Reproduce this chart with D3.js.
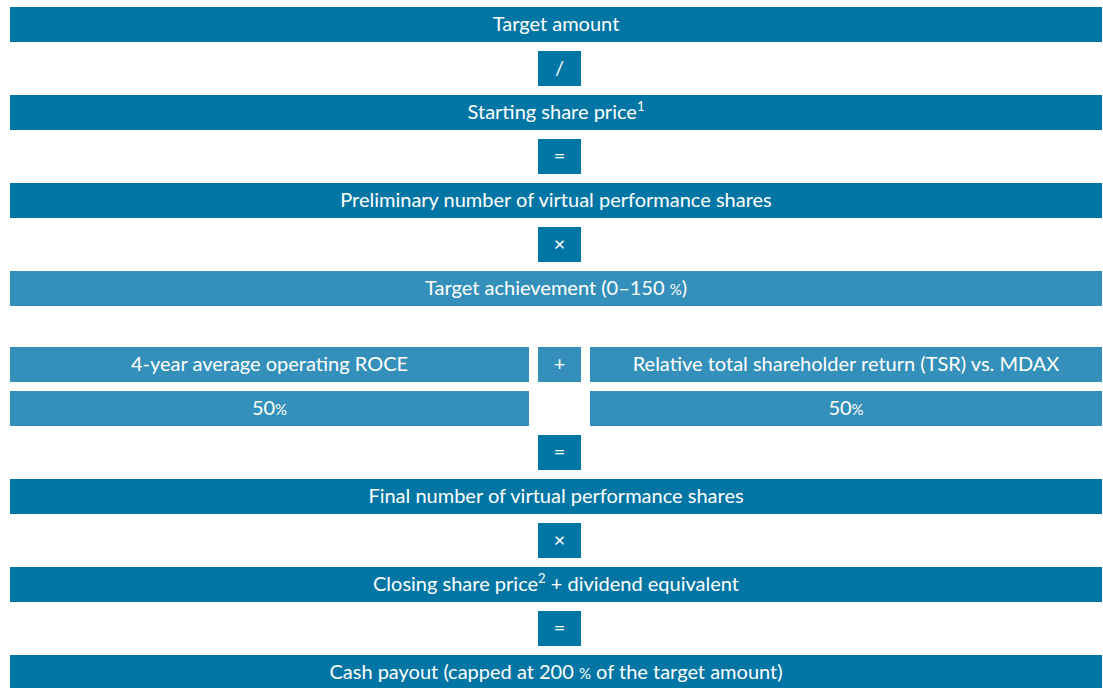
<!DOCTYPE html>
<html>
<head>
<meta charset="utf-8">
<script src="https://cdn.jsdelivr.net/npm/d3@7"></script>
<style>
	body { margin: 0; background: #fff; }
	svg text { font-family: Lato, "Open Sans", sans-serif; fill: #fff; }
</style>
</head>
<body>
<div id="chart-area"></div>
<script>
// Data: the flow of the performance share plan
const barLabels = [
	"Target amount",
	"Starting share price^1",
	"Preliminary number of virtual performance shares",
	"Target achievement (0–150 %)",
	"Final number of virtual performance shares",
	"Closing share price^2 + dividend equivalent",
	"Cash payout (capped at 200 % of the target amount)"
]
const barSlots = [0, 2, 4, 6, 10, 12, 14]
const barLight = [false, false, false, true, false, false, false]

const operatorSymbols = ["/", "=", "×", "=", "×", "="]
const operatorSlots = [1, 3, 5, 9, 11, 13]

const componentLabels = ["4-year average operating ROCE", "Relative total shareholder return (TSR) vs. MDAX"]
const componentShares = ["50%", "50%"]
const componentOperator = "+"
const componentSlot = 7

// Canvas
const width = 1103,
	height = 688

const svg = d3.select("#chart-area")
	.append("svg")
	.attr("width", width)
	.attr("height", height)

const dark = "#0175a4",
	light = "#3490ba"

// Scales
const rowH = 35, gap = 32
const yBase = d3.scaleLinear().domain([0, 1]).range([7, 51])
const y = (slot) => yBase(slot) + (slot >= componentSlot ? gap : 0)
const x = d3.scaleLinear().domain([0, 1]).range([10, 1102])

// columns for the two component boxes and the operator between them
const cols = {
	left: [10, 529],
	op: [538, 581],
	right: [590, 1102]
}

// write text with superscripts (^n) and small percent signs
function label(sel, txt) {
	const parts = txt.split(/(\^\d|%)/).filter(s => s !== "")
	let shift = 0
	parts.forEach(p => {
		let ts
		if (p[0] === "^") {
			ts = sel.append("tspan").attr("font-size", "13px").attr("dy", shift - 8).text(p.slice(1))
			shift = 8
			return
		} else if (p === "%") {
			ts = sel.append("tspan").attr("font-size", "15px").text("%")
		} else {
			ts = sel.append("tspan").text(p)
		}
		if (shift) ts.attr("dy", shift)
		shift = 0
	})
}

function box(x0, x1, top, fill, txt) {
	svg.append("rect")
		.attr("x", x0)
		.attr("y", top)
		.attr("width", x1 - x0)
		.attr("height", rowH)
		.attr("fill", fill)
	const t = svg.append("text")
		.attr("x", (x0 + x1) / 2)
		.attr("y", top + 24)
		.attr("font-size", "20px")
		.attr("text-anchor", "middle")
	label(t, txt)
}

// Main bars
barLabels.forEach((d, i) => {
	box(x(0), x(1), y(barSlots[i]), barLight[i] ? light : dark, d)
})

// Operators
operatorSymbols.forEach((d, i) => {
	box(cols.op[0], cols.op[1], y(operatorSlots[i]), dark, d)
})

// Components
box(cols.left[0], cols.left[1], y(componentSlot), light, componentLabels[0])
box(cols.right[0], cols.right[1], y(componentSlot), light, componentLabels[1])
box(cols.op[0], cols.op[1], y(componentSlot), light, componentOperator)
box(cols.left[0], cols.left[1], y(componentSlot + 1), light, componentShares[0])
box(cols.right[0], cols.right[1], y(componentSlot + 1), light, componentShares[1])
</script>
</body>
</html>
